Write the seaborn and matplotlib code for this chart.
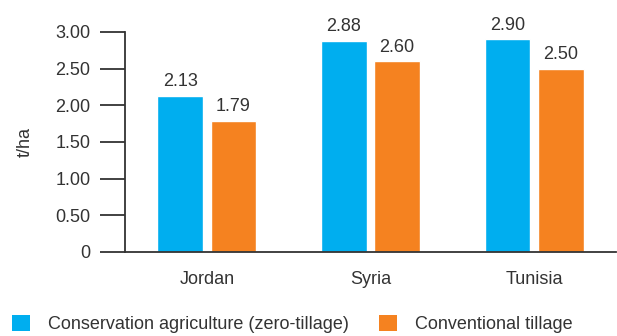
import matplotlib
matplotlib.use("Agg")
import matplotlib.pyplot as plt
import seaborn as sns
import pandas as pd
from matplotlib.patches import Patch

countries = ["Jordan", "Syria", "Tunisia"]
series_names = ["Conservation agriculture (zero-tillage)", "Conventional tillage"]
conservation = [2.13, 2.88, 2.90]
conventional = [1.79, 2.60, 2.50]
y_ticks = [0, 0.5, 1.0, 1.5, 2.0, 2.5, 3.0]
y_tick_labels = ["0", "0.50", "1.00", "1.50", "2.00", "2.50", "3.00"]
y_label = "t/ha"
colors = ["#00AEEF", "#F58220"]

df = pd.DataFrame({
    "country": countries * 2,
    "series": [series_names[0]] * 3 + [series_names[1]] * 3,
    "value": conservation + conventional,
})

sns.set_theme(style="white")
plt.rcParams["font.family"] = ["Liberation Sans", "DejaVu Sans"]
text_color = "#333333"
fs = 13

fig = plt.figure(figsize=(6.17, 3.36), dpi=100)
ax = fig.add_axes([125/617, 84/336, (616-125)/617, (252-32)/336])

sns.barplot(data=df, x="country", y="value", hue="series", palette=colors,
            order=countries, hue_order=series_names, width=0.65, gap=0.14,
            saturation=1, ax=ax, legend=False)

for cont in ax.containers:
    ax.bar_label(cont, labels=[f"{v:.2f}" for v in cont.datavalues],
                 padding=4, fontsize=fs, color=text_color)

ax.set_xlim(-0.5, 2.5)
ax.set_ylim(0, 3.0)
ax.set_yticks(y_ticks)
ax.set_yticklabels(y_tick_labels)
ax.set_xticks([0, 1, 2])
ax.set_xticklabels(countries)
ax.set_xticks([0.5, 1.5, 2.5, -0.5], minor=True)
ax.tick_params(axis="x", which="major", length=0, pad=14, labelsize=fs, labelcolor=text_color)
ax.tick_params(axis="x", which="minor", length=9.5, width=1.3, color=text_color, direction="out")
ax.tick_params(axis="y", length=18, width=1.3, color=text_color, direction="out",
               pad=7, labelsize=fs, labelcolor=text_color, left=True)
ax.set_xlabel("")
ax.set_ylabel(y_label, fontsize=fs, color=text_color)
ax.yaxis.set_label_coords(-0.186, 0.5)
sns.despine(ax=ax, top=True, right=True)
for s in ["left", "bottom"]:
    ax.spines[s].set_color(text_color)
    ax.spines[s].set_linewidth(1.3)

handles = [Patch(facecolor=c, edgecolor="none") for c in colors]
fig.legend(handles, series_names, loc="lower left", bbox_to_anchor=(12/617, 3/336),
           ncol=2, frameon=False, fontsize=fs, handlelength=1.0, handleheight=1.0,
           handletextpad=1.0, columnspacing=1.65, borderpad=0, borderaxespad=0,
           labelcolor=text_color)

fig.savefig("out.png", dpi=100)
